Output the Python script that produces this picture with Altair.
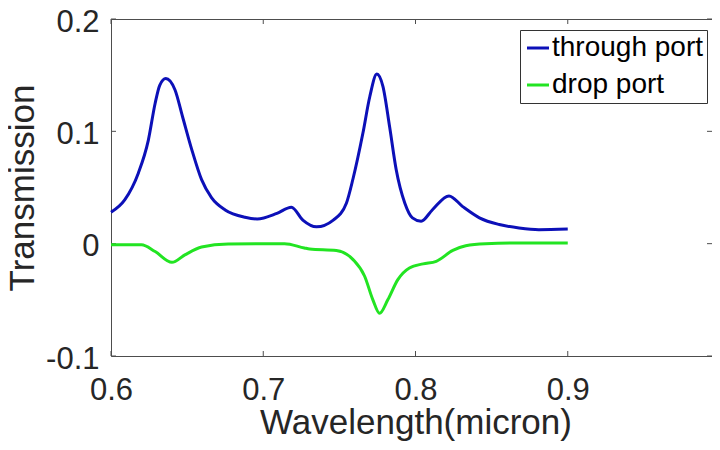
import altair as alt
import pandas as pd

# ---- data ----
through_x = [0.600, 0.609, 0.618, 0.6245, 0.629, 0.632, 0.636, 0.642, 0.647, 0.653,
             0.6595, 0.666, 0.675, 0.688, 0.696, 0.709, 0.7185, 0.726, 0.735, 0.746,
             0.7546, 0.759, 0.7654, 0.770, 0.7746, 0.7786, 0.783, 0.7873, 0.793, 0.798,
             0.8037, 0.811, 0.822, 0.831, 0.842, 0.855, 0.868, 0.881, 0.900]
through_y = [0.028, 0.039, 0.063, 0.092, 0.125, 0.141, 0.147, 0.137, 0.113, 0.084,
             0.057, 0.041, 0.030, 0.0235, 0.022, 0.027, 0.0325, 0.021, 0.015, 0.021,
             0.036, 0.058, 0.098, 0.131, 0.151, 0.140, 0.104, 0.066, 0.036, 0.023,
             0.020, 0.030, 0.0425, 0.033, 0.023, 0.017, 0.014, 0.0125, 0.013]

drop_x = [0.600, 0.620, 0.629, 0.640, 0.6485, 0.6595, 0.677, 0.714, 0.727, 0.7305,
          0.748, 0.759, 0.7666, 0.772, 0.7764, 0.7818, 0.7884, 0.796, 0.805, 0.8136,
          0.8245, 0.833, 0.846, 0.868, 0.900]
drop_y = [-0.001, -0.001, -0.007, -0.0166, -0.010, -0.003, -0.0003, 0.0, -0.0038, -0.0047,
          -0.006, -0.0142, -0.029, -0.050, -0.062, -0.050, -0.032, -0.0216, -0.018, -0.0157,
          -0.006, -0.0018, 0.0, 0.0006, 0.0006]

series_names = ["through port", "drop port"]
series_colors = ["#0c10b8", "#22e422"]

x_ticks = [0.6, 0.7, 0.8, 0.9, 1.0]
x_tick_labels = ["0.6", "0.7", "0.8", "0.9", "1"]
y_ticks = [-0.1, 0.0, 0.1, 0.2]
y_tick_labels = ["-0.1", "0", "0.1", "0.2"]

x_title = "Wavelength(micron)"
y_title = "Transmission"

# ---- build table ----
df = pd.concat([
    pd.DataFrame({"x": through_x, "y": through_y, "series": series_names[0], "order": range(len(through_x))}),
    pd.DataFrame({"x": drop_x, "y": drop_y, "series": series_names[1], "order": range(len(drop_x))}),
])

# the plot area of the reference runs past the window edge: the x scale keeps the
# reference's pixel spacing while the visible view stops at the page edge
W, H = 601, 337
X_RANGE = 609
FONT = "Liberation Sans"
TICK_LEN = 5
FRAME = "#4d4d4d"
TXT = "#262626"

xscale = alt.Scale(domain=[x_ticks[0], x_ticks[-1]], range=[0, X_RANGE], nice=False, zero=False)
yscale = alt.Scale(domain=[y_ticks[0], y_ticks[-1]], nice=False, zero=False)

x_expr = "[" + ",".join(f"'{s}'" for s in x_tick_labels) + f"][round((datum.value - {x_ticks[0]}) / 0.1)]"
y_expr = "[" + ",".join(f"'{s}'" for s in y_tick_labels) + f"][round((datum.value - ({y_ticks[0]})) / 0.1)]"

axis_common = dict(ticks=False, domain=False, grid=False, labelFontSize=31, labelFlush=False,
                   labelOverlap=False, labelBound=False, titleFontWeight="normal",
                   labelFont=FONT, titleFont=FONT, labelColor=TXT, titleColor=TXT)

lines = alt.Chart(df).mark_line(strokeWidth=3, interpolate="monotone").encode(
    x=alt.X("x:Q", scale=xscale, title=x_title,
            axis=alt.Axis(values=x_ticks, labelExpr=x_expr, labelPadding=19, titlePadding=0,
                          titleFontSize=35, **axis_common)),
    y=alt.Y("y:Q", scale=yscale, title=y_title,
            axis=alt.Axis(values=y_ticks, labelExpr=y_expr, labelPadding=12, labelOffset=3,
                          titlePadding=5, titleFontSize=35, **axis_common)),
    color=alt.Color("series:N", scale=alt.Scale(domain=series_names, range=series_colors),
                    legend=alt.Legend(title=None, orient="none", legendX=409, legendY=11,
                                      strokeColor="#333333", fillColor="white", padding=4,
                                      symbolType="stroke", symbolSize=484, symbolStrokeWidth=3,
                                      labelFontSize=28, labelFont=FONT, labelColor="black",
                                      labelOffset=0, rowPadding=9)),
    order="order:Q",
)

xt = pd.DataFrame({"v": x_ticks})
yt = pd.DataFrame({"v": y_ticks})
xs = alt.X("v:Q", scale=xscale)
ys = alt.Y("v:Q", scale=yscale)
tick_bottom = alt.Chart(xt).mark_rule(color=FRAME).encode(x=xs, y=alt.value(H), y2=alt.value(H - TICK_LEN))
tick_top = alt.Chart(xt).mark_rule(color=FRAME).encode(x=xs, y=alt.value(0), y2=alt.value(TICK_LEN))
tick_left = alt.Chart(yt).mark_rule(color=FRAME).encode(y=ys, x=alt.value(0), x2=alt.value(TICK_LEN))
tick_right = alt.Chart(yt).mark_rule(color=FRAME).encode(y=ys, x=alt.value(W), x2=alt.value(W - TICK_LEN))

chart = alt.layer(tick_bottom, tick_top, tick_left, tick_right, lines).properties(
    width=W, height=H,
    autosize=alt.AutoSizeParams(type="none"),
    padding={"left": 103, "top": 11, "right": 0, "bottom": 86},
    background="white",
).configure(font=FONT).configure_view(stroke=FRAME, strokeWidth=1)

chart.save("out.html", embed_options={"renderer": "svg", "actions": False})
